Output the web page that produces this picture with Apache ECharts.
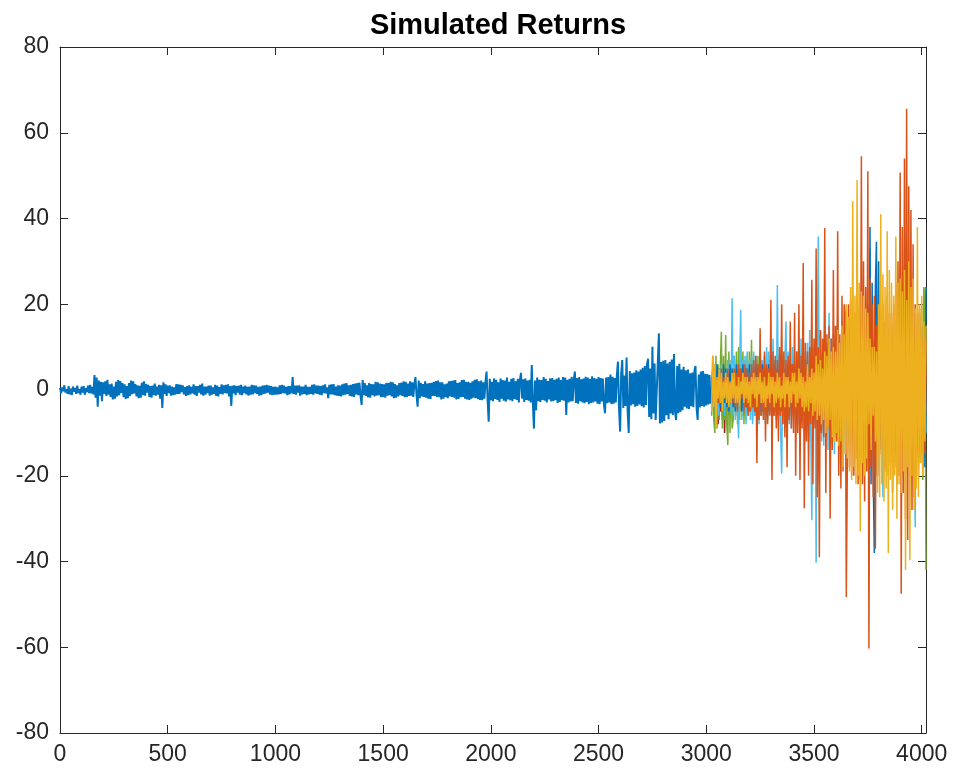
<!DOCTYPE html>
<html>
<head>
<meta charset="utf-8">
<script src="https://cdn.jsdelivr.net/npm/echarts@6/dist/echarts.min.js"></script>
<style>html,body{margin:0;padding:0;background:#fff}#c{width:956px;height:776px}</style>
</head>
<body>
<div id="c"></div>
<script>
// ---- data ----
const histStart = 0, histStep = 5;
const histValues = [
0.5,-0.8,0.6,-0.3,1.1,-0.6,0.2,-0.9,0.9,-1.0,0.3,-1.2,0.8,-0.4,0.5,-0.9,1.0,-0.7,0.2,-1.1,
0.8,-0.6,0.9,-1.1,0.4,-0.5,1.0,-0.7,1.2,-0.8,0.7,-1.0,3.5,-1.8,2.9,-3.9,2.2,-1.3,1.9,-2.6,
1.8,-0.9,2.0,-1.4,2.4,-1.1,1.3,-1.6,1.5,-2.2,0.8,-2.0,1.9,-1.5,2.3,-1.2,2.1,-0.7,1.6,-1.7,
1.3,-2.1,0.9,-1.9,1.6,-1.4,2.2,-1.0,2.0,-0.8,1.4,-1.5,1.1,-1.9,1.0,-1.8,1.7,-1.2,2.0,-1.3,
1.4,-0.6,1.2,-1.6,0.9,-1.8,1.0,-1.2,1.5,-1.3,0.8,-1.1,1.2,-2.0,1.1,-4.2,1.8,-0.9,1.3,-1.4,
1.0,-0.7,1.1,-1.3,0.8,-1.2,0.6,-1.1,1.4,-0.9,1.3,-0.9,1.2,-0.5,1.1,-1.0,0.7,-1.4,0.9,-1.2,
1.1,-1.0,0.7,-0.8,1.3,-1.1,0.9,-1.4,0.9,-0.6,1.2,-1.0,1.5,-1.3,0.8,-1.1,0.8,-0.7,1.0,-1.3,
1.0,-1.1,0.6,-0.9,1.2,-1.4,1.0,-1.5,0.7,-0.9,1.3,-1.0,1.1,-0.7,1.2,-0.8,1.3,-1.5,0.9,-3.7,
1.0,-0.8,1.1,-1.2,0.9,-0.6,1.0,-1.1,1.2,-1.2,0.8,-0.7,1.0,-1.0,0.7,-1.3,0.8,-1.1,1.2,-1.0,
1.1,-0.7,1.0,-0.9,0.7,-1.3,0.8,-1.2,1.0,-0.9,1.1,-0.8,1.2,-0.6,1.0,-1.0,0.9,-1.2,0.7,-1.1,
0.8,-1.1,0.6,-1.0,1.1,-0.9,1.2,-0.7,1.0,-0.8,0.7,-1.2,0.9,-1.0,0.9,-0.8,3.0,-0.9,1.0,-1.1,
1.0,-0.6,1.1,-1.3,0.8,-1.0,0.8,-0.9,1.2,-1.2,0.7,-1.0,0.7,-0.9,1.2,-1.1,1.3,-0.8,1.0,-0.9,
1.0,-1.1,0.9,-1.2,1.1,-0.7,1.3,-0.8,0.6,-1.9,1.2,-1.0,1.3,-1.0,1.4,-1.2,0.8,-1.3,1.1,-1.4,
1.0,-1.5,1.3,-1.2,1.5,-1.1,1.6,-0.9,1.1,-1.4,1.2,-1.5,1.4,-1.6,1.5,-1.0,1.6,-1.2,1.7,-1.3,
-3.5,2.3,-1.2,1.6,-1.4,1.1,-1.7,1.6,-1.8,1.4,-1.2,1.3,-1.5,1.9,-1.3,1.8,-1.2,1.5,-1.7,1.4,
-1.6,1.3,-1.8,1.7,-1.3,1.6,-1.2,1.9,-1.5,1.8,-1.9,1.4,-1.8,1.1,-1.5,1.6,-1.2,1.7,-1.4,2.0,
-1.7,1.9,-1.6,1.5,-1.4,2.0,-1.3,1.8,-1.6,1.5,3.0,-1.2,-3.9,2.2,-1.9,1.7,-1.5,1.4,-1.6,2.0,
-1.8,1.5,-2.0,1.6,-2.1,1.7,-1.4,1.9,-1.4,2.1,-1.6,2.2,-1.7,1.8,-2.2,1.8,-2.0,1.3,-1.7,1.5,
-1.9,2.0,-1.5,2.1,-1.6,2.2,-1.8,2.3,-2.2,1.6,-2.1,1.8,-1.7,2.3,-1.6,2.4,-2.0,1.9,-2.2,1.9,
-2.3,1.7,-2.0,2.0,-1.8,2.4,-1.9,2.5,-2.1,2.0,-2.3,2.2,-2.4,1.8,-2.0,1.9,4.3,-2.5,-7.4,2.6,
-2.4,1.9,-2.6,2.7,-2.1,2.4,-2.3,1.8,-2.8,2.7,-2.0,2.3,-2.5,2.2,-2.7,2.9,-2.2,1.9,-2.4,2.6,
-2.6,2.8,-2.1,2.0,-2.3,2.6,-2.9,2.4,4.0,-2.0,2.5,-2.8,2.7,-2.3,2.2,-2.5,2.4,-2.9,5.8,-3.1,
-9.0,2.2,-4.7,2.9,-2.6,2.4,-2.8,2.3,-2.3,3.0,-2.5,2.6,-2.9,2.1,-2.2,2.7,-2.7,2.8,-2.6,2.4,
-2.4,2.6,-3.0,2.9,-2.8,2.3,-2.4,3.0,-2.5,2.9,-5.8,2.4,-2.9,2.6,-2.7,3.1,-2.6,2.5,4.3,-3.0,
2.8,-3.2,3.0,-2.6,2.5,-2.9,2.7,-3.1,3.1,-2.8,2.9,-3.3,2.6,-3.0,3.2,-2.9,2.8,-2.7,2.6,-3.2,
3.0,-3.3,2.8,-2.7,2.7,-3.4,-5.4,2.9,-3.1,3.0,-2.9,3.6,-3.3,3.1,-3.2,2.8,-2.9,3.5,6.6,-4.1,
-9.7,3.8,7.0,-4.2,3.4,-3.7,7.6,-5.0,-10.0,4.4,-3.6,3.9,-3.3,4.1,-3.9,4.6,-3.7,4.3,-3.4,4.8,
-3.8,5.2,-4.1,5.6,-3.5,6.0,7.3,-6.3,5.0,-6.8,10.1,-5.5,6.2,-7.0,-7.4,6.4,13.2,-7.8,6.5,-7.6,
6.8,-7.2,7.0,-5.9,6.2,-6.8,6.6,-5.5,7.1,-5.8,8.4,-4.9,-7.0,5.6,-5.4,6.1,-5.1,4.8,-4.7,5.4,
-3.9,4.6,-4.3,4.8,-4.4,3.9,-3.8,4.1,-4.0,4.5,5.6,-4.2,-7.0,3.6,-4.1,4.3,-3.7,4.4,-3.9,3.8,
-3.6,3.7,-3.4,3.5,-3.2
];

const simStart = 3025, simStep = 5;
const simPurple = [
3,-3,4,-4,2,-4,5,-3,4,-5,3,-4,5,-3,4,-5,3,-3,4,-4,
4,-4,5,-3,3,-5,4,-4,5,-3,3,-4,4,-5,3,-5,4,-4,5,-3,
3,-5,4,-4,5,-3,3,-5,4,-4,5,-3,3,-5,4,-4,5,-3,3,-5,
5,-3,4,-4,3,-5,5,-3,4,-4,3,-5,5,-3,4,-4,3,-5,5,-4,
4,-4,3,-3,5,-5,4,-4,3,-3,5,-5,4,-4,3,-3,5,-5,4,-4,
3,-5,5,-4,4,-3,3,-5,5,-4,4,-3,3,-5,5,-4,4,-3,3,-5,
5,-4,4,-3,3,-5,5,-4,4,-3,3,-5,5,-4,4,-3,3,-5,5,-4,
4,-3,3,-5,5,-4,4,-3,3,-5,5,-4,4,-3,3,-5,5,-4,4,-3,
3,-4,5,-4,4,-5,3,-3,5,-4,4,-5,3,-3,5,-4,4,-5,3,-3,
5,-3,4,-4,3,-5,5,-3,4,-4,3,-5,5,-3,4,-4,6,-5,4,-5
];
const simDarkRed = [
-3,4,-5,6,-4,5,-8,3,-5,3,-7,4,-10,2,-4,5,-6,3,-5,4,
-5,5,-4,4,-6,6,-5,5,-3,4,-6,6,-4,5,-3,4,-5,6,-4,5,
-6,4,-5,6,-4,5,-6,4,-5,6,-4,5,-3,4,-5,5,-6,6,-4,4,
-4,5,-6,6,-5,4,-3,5,-6,6,-5,4,-4,5,-6,6,-5,4,-3,5,
-5,6,-4,5,-6,5,-5,4,-3,6,-6,5,-4,5,-5,6,-6,5,-4,6,
-6,4,-5,5,-4,6,-6,4,-5,5,-4,6,-3,5,-5,4,-6,6,-4,5,
-4,5,-6,6,-5,4,-3,5,-6,6,-5,5,-4,4,-6,6,-5,5,-4,4,
-5,6,-4,5,-6,5,-5,4,-4,6,-6,6,-3,4,-5,5,-6,5,-4,6,
-6,4,-5,5,-4,6,-6,4,-5,5,-4,6,-3,5,-5,4,-6,6,-5,5,
-4,5,-6,6,-5,4,-3,5,-6,6,-5,4,-4,5,-6,6,-5,5,-4,4
];
const simGreen = [
-6,8,-7,-10,8,-9,6,-7,5,13.6,-9,8,-7,12.8,-8,-12.8,9,-10,7,-9,
-7,8,-6,9,-8,10,-7,8,-6,9,-8,7,-7,8,-6,9,-5,11.7,-7,8,
-6,7,-5,8,-7,9,-6,7,-5,8,-7,9,-6,7,-5,8,-4,6,-6,7,
-5,7,-6,6,-4,8,-5,7,-6,6,-4,8,-5,7,-6,6,-4,5,-5,7,
-4,6,-5,7,-5,5,-4,6,-6,7,-5,5,-4,6,-6,7,-5,5,-4,6,
-5,6,-4,5,-6,7,-5,6,-4,5,-6,7,-5,6,-4,5,-6,7,-5,6,
-4,6,-5,7,-5,5,-6,6,-4,7,-5,5,-6,6,-4,7,-5,5,-6,6,
-5,7,-6,6,-4,5,-5,7,-6,6,-4,5,-5,7,-6,6,-4,5,-5,7,
-5,6,-6,7,-7,8,-5,6,-6,7,-7,8,-5,6,-8,7,-9,8,-10,9,
-8,10,-9,12,-10,11,-12,14,-13,13,-14,15,-16,18,-15,20,-21,24,22,-42
];
const simLightBlue = [
-4,5,-3,6,-5,4,-6,5,-3,6,-5,4,-6,5,-4,7,-3,6,-5,21.4,
-6,8,-7,6,-5,-11.3,6,18.7,-7,7,-5,8,-8,9,-6,7,-7,8,-8,9,
-6,8,-7,5,-8,9,-5,7,-6,5,-8,10,-7,9,-5,6,-9,12,-6,7,
-7,24.5,-6,8,-9,-19.5,6,-8,7,16,-6,9,-8,7,-9,10,-6,8,-7,9,
-8,10,-9,12,-7,8,-10,9,-6,11,-12,14,-9,-30.4,10,-8,12,-40.3,9,35.8,
-10,14,-12,9,-13,16,-8,11,-14,18,-11,12,-9,13,-15,10,-12,17,-10,11,
-12,14,-10,11,-15,18,-11,9,-13,15,-10,16,-12,11,-14,10,-9,16,-11,15,
-12,13,-10,15,-11,12,-14,33,-13,15,-10,12,-16,14,-9,11,-12,13,-10,-25,
-11,12,-14,16,-12,10,-11,15,-10,13,-15,18,-13,11,-12,16,-11,14,-10,12,
-10,11,-12,16,-11,12,-13,15,-9,-32,12,-14,13,-12,11,-12,10,-10,9,-10
];
const simBlue = [
-3,5,-4,4,-5,6,-3,5,-4,4,-5,6,-3,5,-4,4,-5,6,-3,5,
-4,4,-5,6,-3,5,-4,5,-5,6,-3,4,-4,5,-5,6,-3,4,-4,5,
-5,6,-3,5,-4,4,-5,6,-3,5,-4,5,-5,6,-3,4,-4,5,-5,6,
-4,5,-5,6,-3,6,-4,5,-5,4,-3,6,-4,5,-5,6,-3,6,-4,5,
-5,6,-4,5,-6,5,-5,7,-4,6,-6,6,-5,7,-4,5,-6,6,-5,7,
-5,6,-6,7,-6,7,-5,6,-7,5,-6,8,-5,7,-7,6,-6,8,-5,7,
-6,7,-7,8,-5,6,-6,7,-7,8,-8,9,-6,7,-9,8,-8,9,-10,10,
-9,12,-14,15,-12,20,-25,38,-22,25,-20,-38,24,34.6,-20,30,-14,18,-10,12,
-6,8,-7,10,-8,7,-6,9,-7,8,-8,7,-6,9,-7,8,-9,7,-6,9,
-7,8,-6,7,-8,9,-7,8,-6,7,-8,9,-7,8,-9,10,-11,12,-18,24
];
const simOrange = [
-3,4,-2,5,-4,3,-3,4,-2,5,-4,3,-1,4,-2,5,-4,2,-3,4,
-3,5,-4,4,-5,6,-3,5,-2,4,-5,6,-4,5,-6,4,-5,6,-4,7,
-5,8,-17,6,-7,14.4,-6,5,-7,9,-12,6,-8,5,-6,21,-21,9,-6,8,
-9,7,-12,10,-6,20,-8,9,-11,7,-18,8,-7,16,-9,6,-10,18,-20,9,
-10,20,-21,8,-9,29.6,-27.6,11,-12,9,-20,10,-8,25.7,-22,12,-9,33,-25,10,
-39,14,-10,12,-11,37.8,-24,13,-9,15,-30,12,-14,28,-11,15,-12,37,-20,13,
-23,22,-19,20,18,-48.3,-17,20,-18,21,-20,16,-20,18,-16,25,-22,19,-21,54.5,
-22,30,-26,24,-19,51,-60.3,26,-18,20,-25,22,-37,15,-20,18,-15,17,-14,20,
-18,16,-19,22,-20,18,-17,18,-24,20,-18,25,-22,30,-20,50.7,-47.5,38,-24,54,
-30,65.6,-35,47.5,-16,42,-28,34,-25,20,-14,18,-20,19,-17,15,-18,13,-15,12
];
const simYellow = [
-5,8,-4,6,-9,3,-2,5,-3,4,-5,2,-2,4,-3,3,-4,2,-3,4,
-2,4,-3,1,-3,3,-4,2,-1,4,-3,3,-2,3,-3,2,-4,3,-1,4,
-2,3,-4,3,-1,4,-3,2,-3,3,-4,1,-2,4,-3,3,-1,3,-4,2,
-3,4,-2,3,-4,1,-2,4,-4,3,-1,3,-4,2,-3,4,-1,4,-4,2,
-3,5,-2,4,-4,3,-5,2,-4,6,-5,3,-3,5,-6,4,-5,8,-7,6,
-6,7,-8,5,-7,9,-10,8,-9,12,-7,9,-11,10,-12,9,-10,14,-13,11,
-12,15,-18,13,-15,20,-16,17,-19,24,-21,44,-18,22,-22,49,-20,25,-33,23,
-17,22,-20,19,-16,18,-8,12,-14,10,-6,10,-12,9,-24,20,-25,41,-22,27,
-26,24,-23,37,-38,28,-21,25,-28,22,-20,35.8,-30,25,-22,26,-24,23,-19,28,
-42,21,-18,30,-39.7,24,-20,26,-28,19,-23,38,-25,20,-17,22,-20,16,-12,15
];

const simSeriesList = [
  {name:'sim1', color:'#7E2F8E', values:simPurple},
  {name:'sim2', color:'#A2142F', values:simDarkRed},
  {name:'sim3', color:'#77AC30', values:simGreen},
  {name:'sim4', color:'#4DBEEE', values:simLightBlue},
  {name:'sim5', color:'#0072BD', values:simBlue},
  {name:'sim6', color:'#D95319', values:simOrange},
  {name:'sim7', color:'#EDB120', values:simYellow}
];

const xTicks = [0,500,1000,1500,2000,2500,3000,3500,4000];
const yTicks = [-80,-60,-40,-20,0,20,40,60,80];

// ---- chart ----
const toPairs = (start, step, vals) => vals.map((v, i) => [start + i * step, v]);
const axisColor = '#262626';
const font = 'Liberation Sans, Arial, Helvetica, sans-serif';

const series = [{
  type: 'line', name: 'hist', data: toPairs(histStart, histStep, histValues),
  showSymbol: false, symbol: 'none', lineStyle: {color: '#0072BD', width: 2},
  itemStyle: {color: '#0072BD'}, silent: true
}];
simSeriesList.forEach(s => series.push({
  type: 'line', name: s.name, data: toPairs(simStart, simStep, s.values),
  showSymbol: false, symbol: 'none', lineStyle: {color: s.color, width: 1.5},
  itemStyle: {color: s.color}, silent: true
}));

const xAxisBase = {
  type: 'value', min: 0, max: 4020, interval: 500,
  axisLine: {show: true, onZero: false, lineStyle: {color: axisColor, width: 1}},
  axisTick: {show: true, inside: true, length: 8, lineStyle: {color: axisColor}},
  splitLine: {show: false}
};
const yAxisBase = {
  type: 'value', min: -80, max: 80, interval: 20,
  axisLine: {show: true, onZero: false, lineStyle: {color: axisColor, width: 1}},
  axisTick: {show: true, inside: true, length: 8, lineStyle: {color: axisColor}},
  splitLine: {show: false}
};

const chart = echarts.init(document.getElementById('c'), null, {renderer: 'canvas'});
chart.setOption({
  animation: false,
  backgroundColor: '#ffffff',
  title: {
    text: 'Simulated Returns', left: 493, top: 6, textAlign: 'center',
    textStyle: {fontFamily: font, fontSize: 29, fontWeight: 'bold', color: '#000000'}
  },
  grid: {left: 60, right: 30, top: 47, bottom: 43, containLabel: false},
  xAxis: [
    Object.assign({}, xAxisBase, {position: 'bottom',
      axisLabel: {show: true, margin: 10, color: axisColor, fontFamily: font, fontSize: 23,
        formatter: v => xTicks.includes(v) ? String(v) : ''}}),
    Object.assign({}, xAxisBase, {position: 'top', axisLabel: {show: false}})
  ],
  yAxis: [
    Object.assign({}, yAxisBase, {position: 'left',
      axisLabel: {show: true, margin: 11, color: axisColor, fontFamily: font, fontSize: 23,
        formatter: v => yTicks.includes(v) ? String(v) : ''}}),
    Object.assign({}, yAxisBase, {position: 'right', axisLabel: {show: false}})
  ],
  series: series
});
</script>
</body>
</html>
